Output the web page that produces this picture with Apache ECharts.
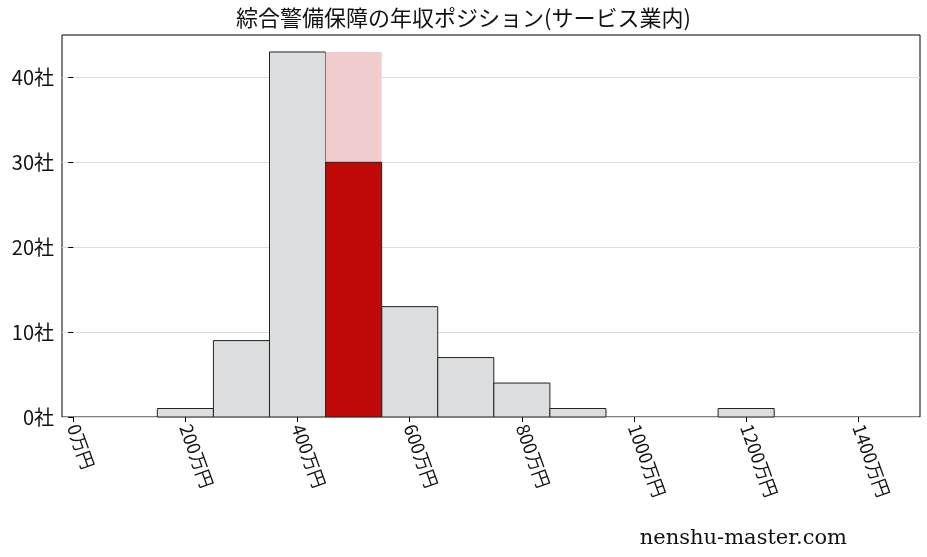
<!DOCTYPE html>
<html><head><meta charset="utf-8">
<script src="https://cdn.jsdelivr.net/npm/echarts@6/dist/echarts.min.js"></script>
<style>html,body{margin:0;padding:0;background:#fff}#c{width:927px;height:557px}</style>
</head><body><div id="c"></div>
<script>
const binStarts = [150,250,350,450,550,650,750,850,950,1050,1150];
const binEnds   = [250,350,450,550,650,750,850,950,1050,1150,1250];
const counts    = [1,9,43,43,13,7,4,1,0,0,1];
const highlightBin = 3;
const highlightCount = 30;
const xTicks = [0,200,400,600,800,1000,1200,1400];
const yTicks = [0,10,20,30,40];

const greyData = [], pinkData = [], redData = [];
binStarts.forEach((s,i)=>{
  if (i===highlightBin){ pinkData.push([s,binEnds[i],counts[i]]); redData.push([s,binEnds[i],highlightCount]); }
  else if (counts[i]>0) greyData.push([s,binEnds[i],counts[i]]);
});
function rect(fill, stroke){
  return function(params, api){
    const a = api.coord([api.value(0), api.value(2)]);
    const b = api.coord([api.value(1), 0]);
    return {type:'rect', shape:{x:a[0], y:a[1], width:b[0]-a[0], height:b[1]-a[1]},
      style:{fill:fill, stroke:stroke, lineWidth:stroke?1:0}};
  };
}
const serif = '"DejaVu Serif","Liberation Serif","Noto Sans CJK JP",serif';
const chart = echarts.init(document.getElementById('c'));
chart.setOption({
  animation:false,
  title:{text:'綜合警備保障の年収ポジション(サービス業内)', left:'center', top:2,
    textStyle:{fontFamily:'"Noto Sans CJK JP",sans-serif', fontSize:22, fontWeight:'normal', color:'#111'}},
  graphic:[{type:'text', right:80, bottom:8, style:{text:'nenshu-master.com', font:'21px '+serif, fill:'#111'}}],
  grid:{left:62, right:7, top:35, bottom:140, show:true, borderColor:'#000', borderWidth:1},
  xAxis:{type:'value', min:-20, max:1510,
    axisLine:{show:false}, splitLine:{show:false},
    axisTick:{show:true, customValues:xTicks, lineStyle:{color:'#000'}},
    axisLabel:{customValues:xTicks, rotate:-70, formatter:v=>v+'万円', fontSize:18, color:'#111', fontFamily:'"Noto Sans CJK JP",serif'}},
  yAxis:{type:'value', min:0, max:45,
    axisLine:{show:false},
    splitLine:{show:true, lineStyle:{color:'#ddd'}},
    axisTick:{show:true, customValues:yTicks, lineStyle:{color:'#000'}},
    axisLabel:{customValues:yTicks, formatter:v=>v+'社', fontSize:20, color:'#111', fontFamily:'"Noto Sans CJK JP",serif'}},
  series:[
    {type:'custom', renderItem:rect('#dcdddf','#222'), data:greyData, encode:{x:[0,1], y:2}},
    {type:'custom', renderItem:rect('#f0cccc',null), data:pinkData, encode:{x:[0,1], y:2}},
    {type:'custom', renderItem:rect('#c00a0a','#222'), data:redData, encode:{x:[0,1], y:2}}
  ]
});
</script></body></html>
